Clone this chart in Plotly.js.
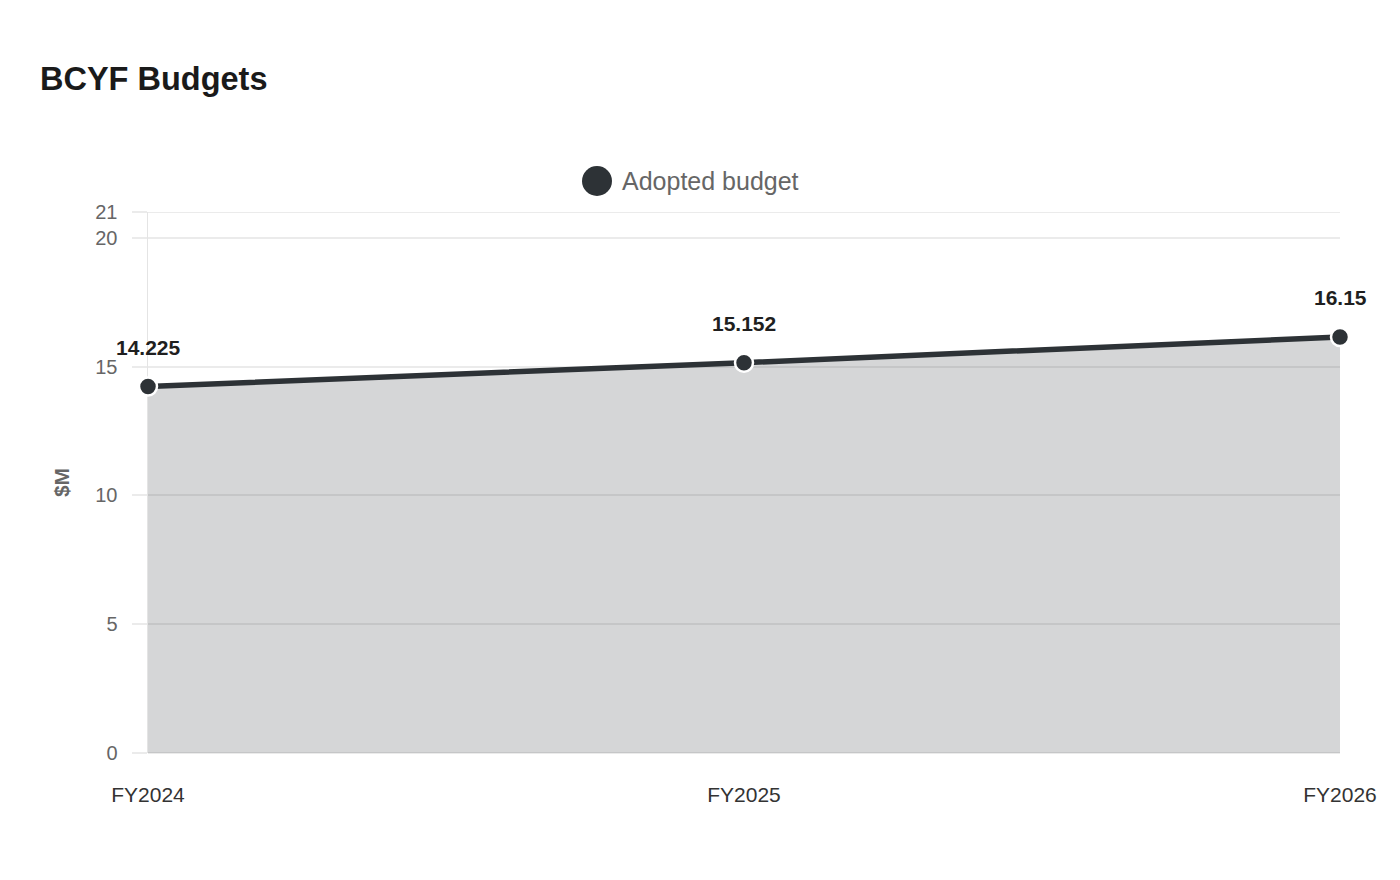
<!DOCTYPE html>
<html>
<head>
<meta charset="utf-8">
<script src="https://cdn.plot.ly/plotly-3.0.1.min.js"></script>
<style>
  html, body { margin: 0; padding: 0; background: #ffffff; }
  #chart { width: 1400px; height: 880px; }
</style>
</head>
<body>
<div id="chart"></div>
<script>
const categories = ["FY2024", "FY2025", "FY2026"];
const adoptedBudget = [14.225, 15.152, 16.15];
const dataLabels = ["14.225", "15.152", "16.15"];
const seriesName = "Adopted budget";
const yTickVals = [0, 5, 10, 15, 20, 21];

const FONT = '"Liberation Sans", Arial, sans-serif';
const DARK = '#2d3236';
const yMax = yTickVals[yTickVals.length - 1];

const trace = {
  x: categories,
  y: adoptedBudget,
  name: seriesName,
  type: 'scatter',
  mode: 'lines+markers',
  fill: 'tozeroy',
  fillcolor: 'rgba(45,50,54,0.2)',
  line: { color: DARK, width: 5.5 },
  marker: { color: DARK, size: 18, line: { color: '#ffffff', width: 2.5 } },
  cliponaxis: false,
  hoverinfo: 'x+y',
  showlegend: false
};

const labelAnnotations = categories.map((c, i) => ({
  x: c, y: adoptedBudget[i], xref: 'x', yref: 'y',
  text: dataLabels[i], showarrow: false,
  xanchor: 'center', yanchor: 'middle', yshift: 39,
  font: { family: FONT, size: 21, color: '#1f1f1f', weight: 'bold' }
}));

const plotW = 1400 - 148 - 60;
const plotH = 880 - 212 - 127;
const lx = (px) => (px - 148) / plotW;
const ly = (py) => (753 - py) / plotH;

const layout = {
  width: 1400,
  height: 880,
  paper_bgcolor: '#ffffff',
  plot_bgcolor: '#ffffff',
  font: { family: FONT, color: '#666666', size: 20 },
  margin: { l: 148, r: 60, t: 212, b: 127, pad: 0 },
  title: {
    text: 'BCYF Budgets',
    xref: 'container', yref: 'container',
    x: 40 / 1400, xanchor: 'left',
    y: 1 - 79 / 880, yanchor: 'middle',
    font: { family: FONT, size: 32.5, color: '#1a1a1a', weight: 'bold' }
  },
  showlegend: false,
  xaxis: {
    type: 'category',
    range: [0, 2],
    showgrid: false,
    zeroline: false,
    showline: false,
    ticks: '',
    ticklabelstandoff: 27,
    tickfont: { family: FONT, size: 21, color: '#333333' },
    automargin: false,
    fixedrange: true
  },
  yaxis: {
    range: [0, yMax],
    tickmode: 'array',
    tickvals: yTickVals,
    ticktext: yTickVals.map(String),
    showgrid: true,
    gridcolor: '#ebebeb',
    gridwidth: 2,
    zeroline: true,
    zerolinecolor: '#ebebeb',
    zerolinewidth: 2,
    showline: true,
    linecolor: '#e4e4e4',
    linewidth: 1.5,
    ticks: 'outside',
    ticklen: 15,
    tickwidth: 2,
    tickcolor: '#ebebeb',
    ticklabelstandoff: 10,
    tickfont: { family: FONT, size: 20, color: '#666666' },
    layer: 'below traces',
    title: {
      text: '$M',
      standoff: 20,
      font: { family: FONT, size: 21, color: '#666666', weight: 'bold' }
    },
    automargin: false,
    fixedrange: true
  },
  shapes: [{
    type: 'line', xref: 'paper', yref: 'y',
    x0: 0, x1: 1, y0: yMax, y1: yMax,
    line: { color: '#ebebeb', width: 2 }, layer: 'below'
  }, {
    type: 'circle', xref: 'paper', yref: 'paper',
    x0: lx(582), x1: lx(612), y0: ly(196), y1: ly(166),
    fillcolor: DARK, line: { width: 0 }
  }],
  annotations: labelAnnotations.concat([{
    xref: 'paper', yref: 'paper',
    x: lx(620), y: ly(181),
    xanchor: 'left', yanchor: 'middle',
    text: seriesName, showarrow: false,
    font: { family: FONT, size: 25, color: '#666666' }
  }])
};

Plotly.newPlot('chart', [trace], layout, { displayModeBar: false, staticPlot: true });
</script>
</body>
</html>
